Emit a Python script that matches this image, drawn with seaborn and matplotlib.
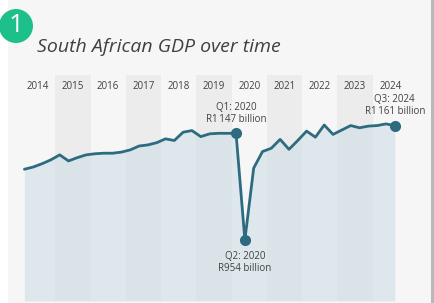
import matplotlib.pyplot as plt
import matplotlib.patches as mpatches
import pandas as pd
import seaborn as sns

# quarterly real GDP (R billion), 2014 Q1 .. 2024 Q3
years = list(range(2014, 2025))
gdp = [1082, 1086, 1092, 1099, 1108, 1097, 1103, 1108,
       1110, 1111, 1111, 1113, 1117, 1124, 1126, 1130,
       1137, 1134, 1149, 1152, 1141, 1146, 1147, 1147,
       1147, 954, 1084, 1114, 1120, 1136, 1118, 1134,
       1151, 1140, 1162, 1145, 1153, 1161, 1157, 1160,
       1161, 1164, 1161]
quarter_labels = [(y, q) for y in years for q in range(1, 5)][:len(gdp)]
callouts = [(2020, 1, "Q1: 2020\nR1\u2009147 billion"),
            (2020, 2, "Q2: 2020\nR954 billion"),
            (2024, 3, "Q3: 2024\nR1\u2009161 billion")]

df = pd.DataFrame({
    "pos": [y + (q - 0.5) / 4 for y, q in quarter_labels],
    "gdp": gdp,
})

sns.set_style("white")
plt.rcParams['font.family'] = ['Open Sans', 'DejaVu Sans']

line_col = "#2c6b80"
card_col = "#f6f6f6"
text_col = "#404040"

fig = plt.figure(figsize=(4.34, 3.03), dpi=100)
fig.patch.set_facecolor("white")

# card background with shadow
W, H = 434, 303
shadow = mpatches.FancyBboxPatch((10 / W, -0.1), 424 / W, 1.2, boxstyle="round,pad=0,rounding_size=0.06",
                                 transform=fig.transFigure, facecolor="#b8b8b8", edgecolor="none", zorder=-2)
card = mpatches.FancyBboxPatch((8 / W, -0.1), 423 / W, 1.2, boxstyle="round,pad=0,rounding_size=0.06",
                               transform=fig.transFigure, facecolor=card_col, edgecolor="none", zorder=-1)
fig.patches.extend([shadow, card])

# badge and title
badge = mpatches.Ellipse((16 / W, 1 - 26 / H), 34 / W, 34 / H, transform=fig.transFigure,
                         facecolor="#1dbf8a", edgecolor="none", zorder=1)
fig.patches.append(badge)
fig.text(16 / W, 1 - 26 / H, "1", color="white", fontsize=19, ha="center", va="center", zorder=2)
fig.text(37 / W, 1 - 47 / H, "South African GDP over time", fontsize=14, style="italic",
         color=text_col, ha="left", va="center")

ax = fig.add_axes([20 / W, 2 / H, 388 / W, 226 / H])
ax.set_zorder(1)
ax.set_facecolor("none")
ymin, ymax = 843.6, 1252.5
ax.set_xlim(2014, 2025)
ax.set_ylim(ymin, ymax)

for i, y in enumerate(years):
    if i % 2 == 1:
        ax.axvspan(y, y + 1, color="#ececec", lw=0, zorder=0)
    ax.text(y + 0.5, 1232, str(y), ha="center", va="center", fontsize=7, color=text_col)

ax.fill_between(df["pos"], df["gdp"], ymin, color="#cfe0e6", alpha=0.6, lw=0, zorder=1)
sns.lineplot(data=df, x="pos", y="gdp", ax=ax, color=line_col, lw=2, zorder=3)

for y, q, label in callouts:
    x = y + (q - 0.5) / 4
    v = df.loc[quarter_labels.index((y, q)), "gdp"]
    ax.plot(x, v, "o", color=line_col, ms=7, zorder=4)
    if q == 2:
        ax.annotate(label, (x, v), xytext=(0, -8), textcoords="offset points",
                    ha="center", va="top", fontsize=7, color=text_col, linespacing=1.15)
    else:
        ax.annotate(label, (x, v), xytext=(0, 6), textcoords="offset points",
                    ha="center", va="bottom", fontsize=7, color=text_col, linespacing=1.15,
                    annotation_clip=False)

ax.set_xlabel("")
ax.set_ylabel("")
ax.set_xticks([])
ax.set_yticks([])
for s in ax.spines.values():
    s.set_visible(False)

fig.savefig("out.png", dpi=100)
